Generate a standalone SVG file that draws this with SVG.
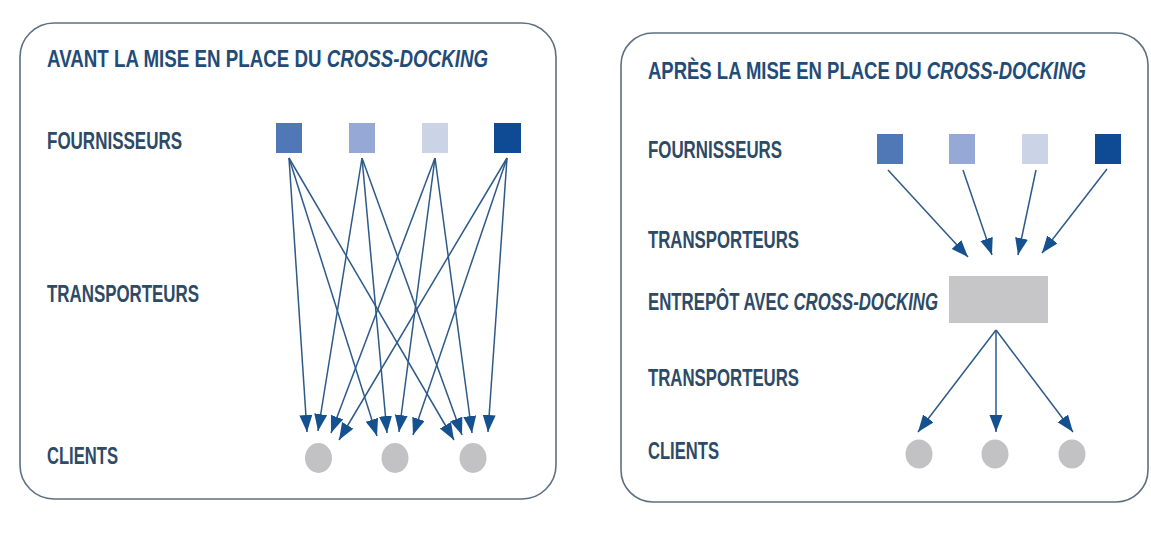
<svg xmlns="http://www.w3.org/2000/svg" width="1151" height="557" viewBox="0 0 1151 557">
<style>
.panel{fill:#ffffff;stroke:#5d6f80;stroke-width:1.6}
.title{font-family:"Liberation Sans",Arial,sans-serif;font-weight:bold;font-size:24px;fill:#1f4c78}
.lbl{font-family:"Liberation Sans",Arial,sans-serif;font-weight:bold;font-size:24px;fill:#2d4a66}
.it{font-style:italic}
.s1{fill:#5077b6}.s2{fill:#96a9d5}.s3{fill:#cbd3e7}.s4{fill:#0f4a94}
.client{fill:#c2c2c4}
.wh{fill:#c6c6c8}
.conn line{stroke:#2d5a88;stroke-width:1.5}
</style>
<defs>
<marker id="ah" markerUnits="userSpaceOnUse" markerWidth="18" markerHeight="14" refX="17" refY="6.5" orient="auto">
<path d="M0,0 L17,6.5 L0,13 z" fill="#15508f"/>
</marker>
</defs>
<rect width="1151" height="557" fill="#ffffff"/>

<g id="panel-avant">
<rect class="panel" x="20" y="23" width="536" height="476" rx="34" ry="34"/>
<text class="title" x="47" y="67" textLength="441" lengthAdjust="spacingAndGlyphs">AVANT LA MISE EN PLACE DU <tspan class="it">CROSS-DOCKING</tspan></text>
<text class="lbl" x="47" y="149" textLength="135" lengthAdjust="spacingAndGlyphs">FOURNISSEURS</text>
<text class="lbl" x="47" y="302" textLength="152" lengthAdjust="spacingAndGlyphs">TRANSPORTEURS</text>
<text class="lbl" x="47" y="464" textLength="71" lengthAdjust="spacingAndGlyphs">CLIENTS</text>
</g>

<g id="avant-fournisseur-1"><rect class="s1" x="276" y="123" width="26" height="30"/></g>
<g id="avant-fournisseur-2"><rect class="s2" x="349" y="123" width="26" height="30"/></g>
<g id="avant-fournisseur-3"><rect class="s3" x="422" y="123" width="26" height="30"/></g>
<g id="avant-fournisseur-4"><rect class="s4" x="494" y="123" width="27" height="30"/></g>
<g id="avant-client-1"><ellipse class="client" cx="318.5" cy="458" rx="13.5" ry="15"/></g>
<g id="avant-client-2"><ellipse class="client" cx="395" cy="458" rx="13.5" ry="15"/></g>
<g id="avant-client-3"><ellipse class="client" cx="473" cy="458" rx="13.5" ry="15"/></g>

<g id="panel-apres">
<rect class="panel" x="621" y="33" width="527" height="469" rx="32" ry="32"/>
<text class="title" x="648" y="79" textLength="438" lengthAdjust="spacingAndGlyphs">APRÈS LA MISE EN PLACE DU <tspan class="it">CROSS-DOCKING</tspan></text>
<text class="lbl" x="648" y="158" textLength="134" lengthAdjust="spacingAndGlyphs">FOURNISSEURS</text>
<text class="lbl" x="648" y="248" textLength="151" lengthAdjust="spacingAndGlyphs">TRANSPORTEURS</text>
<text class="lbl" x="648" y="310" textLength="290" lengthAdjust="spacingAndGlyphs">ENTREPÔT AVEC <tspan class="it">CROSS-DOCKING</tspan></text>
<text class="lbl" x="648" y="386" textLength="151" lengthAdjust="spacingAndGlyphs">TRANSPORTEURS</text>
<text class="lbl" x="648" y="459" textLength="71" lengthAdjust="spacingAndGlyphs">CLIENTS</text>
</g>

<g id="apres-fournisseur-1"><rect class="s1" x="877" y="134" width="26" height="30"/></g>
<g id="apres-fournisseur-2"><rect class="s2" x="949" y="134" width="26" height="30"/></g>
<g id="apres-fournisseur-3"><rect class="s3" x="1022" y="134" width="26" height="30"/></g>
<g id="apres-fournisseur-4"><rect class="s4" x="1095" y="134" width="26" height="30"/></g>
<g id="apres-entrepot"><rect class="wh" x="949" y="276" width="99" height="47"/></g>
<g id="apres-client-1"><ellipse class="client" cx="919" cy="454" rx="13.5" ry="14.5"/></g>
<g id="apres-client-2"><ellipse class="client" cx="995" cy="454" rx="13.5" ry="14.5"/></g>
<g id="apres-client-3"><ellipse class="client" cx="1072" cy="454" rx="13.5" ry="14.5"/></g>

<g id="connectors" class="conn">
<line x1="289" y1="158" x2="307" y2="432" marker-end="url(#ah)"/>
<line x1="289" y1="158" x2="377" y2="436" marker-end="url(#ah)"/>
<line x1="289" y1="158" x2="454" y2="440" marker-end="url(#ah)"/>
<line x1="362" y1="158" x2="318" y2="431" marker-end="url(#ah)"/>
<line x1="362" y1="158" x2="387" y2="433" marker-end="url(#ah)"/>
<line x1="362" y1="158" x2="462" y2="435" marker-end="url(#ah)"/>
<line x1="435" y1="158" x2="331" y2="433" marker-end="url(#ah)"/>
<line x1="435" y1="158" x2="399" y2="432" marker-end="url(#ah)"/>
<line x1="435" y1="158" x2="472" y2="433" marker-end="url(#ah)"/>
<line x1="507" y1="158" x2="339" y2="440" marker-end="url(#ah)"/>
<line x1="507" y1="158" x2="413" y2="435" marker-end="url(#ah)"/>
<line x1="507" y1="158" x2="488" y2="432" marker-end="url(#ah)"/>
<line x1="888" y1="170" x2="968" y2="257" marker-end="url(#ah)"/>
<line x1="963" y1="170" x2="992" y2="255" marker-end="url(#ah)"/>
<line x1="1036" y1="170" x2="1018" y2="255" marker-end="url(#ah)"/>
<line x1="1107" y1="169" x2="1042" y2="253" marker-end="url(#ah)"/>
<line x1="996" y1="330" x2="918" y2="432" marker-end="url(#ah)"/>
<line x1="996" y1="330" x2="996" y2="432" marker-end="url(#ah)"/>
<line x1="996" y1="330" x2="1073" y2="432" marker-end="url(#ah)"/>
</g>
</svg>
